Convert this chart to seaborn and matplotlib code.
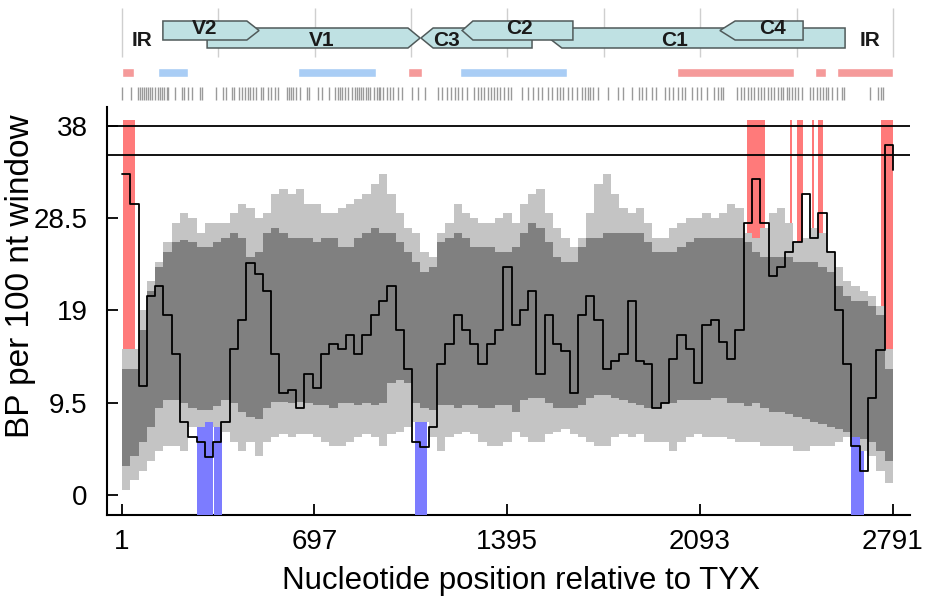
import numpy as np
import pandas as pd
import matplotlib
matplotlib.use('Agg')
import matplotlib.pyplot as plt
from matplotlib.patches import Polygon
import seaborn as sns

# sliding window start positions (every 30 nt)
pos = np.arange(1, 2792, 30)

# observed BP count per window (black line)
median_bp = [33, 30, 11.2, 20.5, 21.5, 18.5, 14.5, 7.5, 6.0, 5.5, 3.9, 5.5, 7.5, 15.0, 18.0, 23.9,
             22.8, 21.0, 14.5, 10.5, 10.8, 9.0, 12.5, 11, 14.5, 15.5, 15.0, 16.5, 14.5, 16.5, 18.5,
             20, 21.5, 17, 13, 5.5, 4.9, 7.0, 13.5, 15.5, 18.5, 17, 15.5, 13.5, 15.5, 17, 23.5,
             17.5, 19, 21, 12.5, 18.5, 15.5, 14.8, 10.5, 18.5, 20.5, 18, 13, 13.8, 14.5, 20, 13.8,
             13.5, 9, 9.5, 14, 16.5, 15, 11.5, 17.5, 18, 15.8, 14, 17, 28, 32.5, 28, 22.5, 23.5,
             25, 26, 31, 26.5, 29, 25, 19, 13.5, 5.0, 2.5, 10, 14.9, 36, 33.5]

# outer (light grey) band
light_hi = [15, 15, 19, 22, 24, 26, 28, 29, 28.5, 27, 28, 28, 28, 29, 30, 29.5, 28.5, 29, 31, 31.5,
            31, 31.5, 30, 30, 29, 29, 29.5, 30, 30.5, 31, 32, 33, 31, 29, 27.5, 27, 25, 24.5, 27,
            28, 30, 29, 28.5, 28, 28, 28.5, 29, 28, 30, 31, 31.5, 29, 27.5, 26.5, 25.5, 26.5, 29,
            32, 33, 31, 29.5, 29, 29.5, 28, 26.5, 26.5, 27.5, 28, 28.5, 28.5, 29, 28.5, 29, 30,
            29.5, 27, 26.5, 27.5, 29, 29.5, 28, 26, 26.5, 27.5, 27, 25, 23.5, 22, 21.5, 21, 20.5,
            19.5, 15, 13.5]
light_lo = [0.5, 1.5, 2.5, 3.5, 4.5, 5, 5, 4.5, 7, 7, 7.5, 7, 6.5, 5.5, 4.5, 5.5, 4, 5.5, 6, 6.3,
            6, 6.3, 6.3, 6, 5.5, 5, 5, 5.5, 6, 6.3, 6, 5, 6.3, 6.5, 7, 7.5, 7.5, 6, 4.5, 6, 6.3,
            6.5, 6.3, 5.5, 5, 5, 5.5, 6.5, 6, 5.5, 5.5, 6.3, 6.5, 6.8, 6.3, 6, 5.5, 5, 5, 6, 6.3,
            6, 6.3, 5.5, 5.5, 5.5, 4.5, 5.5, 6, 6.3, 6, 6, 6, 5.8, 5.5, 5.5, 5.5, 5, 5, 5, 5, 4.5,
            4.5, 5, 5, 5, 5.5, 6, 6, 4.5, 4, 2.5, 1.2, 1]

# inner (dark grey) band
dark_hi = [13, 13, 17, 21, 23.5, 25, 26, 26.3, 26, 25.5, 25.5, 26, 26.5, 27, 26.5, 24.5, 25, 27,
           27.5, 27, 26.5, 26.5, 26.5, 26, 26.5, 26.5, 25.5, 25.5, 26.5, 27, 27.5, 27, 27, 26, 25,
           24, 23, 23.5, 26, 26.5, 27, 26.5, 25.5, 25.5, 25.5, 25, 25, 25.5, 27, 28, 27.5, 26,
           24.5, 24, 24, 25.5, 26.5, 26.5, 27, 27, 27, 27, 27, 26, 25, 25, 25, 25.5, 26, 26.5,
           26.5, 26.5, 26.5, 26.5, 26.5, 26, 25, 24.5, 24.5, 24.5, 24.5, 24, 24, 24, 23.5, 23,
           21.5, 20.5, 20, 20, 19.5, 18.5, 13, 12.5]
dark_lo = [3, 4, 5.5, 7, 9, 9.8, 9.8, 9.5, 9, 8.8, 8.8, 9.2, 9.8, 9.5, 8.5, 8, 7.8, 9, 9.6, 9.6,
           9.5, 9.6, 9.5, 9.3, 9.3, 9.0, 9.5, 9.5, 9.3, 9.5, 9.3, 9.5, 11.5, 11.8, 11.5, 9.5, 9.0,
           8.8, 9.3, 9.3, 9.0, 9.3, 9.3, 9.0, 9.0, 9.3, 9.3, 8.5, 9.8, 10, 10, 9.5, 9, 9, 9, 9.3,
           10, 10.3, 10.3, 10, 9.8, 9.5, 9.3, 9, 9, 9.5, 9.5, 9.8, 9.8, 9.8, 9.8, 10, 10, 9.5,
           9.5, 9.2, 9.5, 9, 8.5, 8.5, 8.3, 8, 7.8, 7.5, 7.3, 7, 6.8, 6.5, 6, 5.8, 5.5, 4.5, 3.5, 3]

# windows above / below the outer band
red_spans = [(5, 49), (2262, 2328), (2419, 2427), (2443, 2467), (2497, 2507), (2521, 2539), (2748, 2791)]
blue_spans = [(272, 330), (335, 363), (1061, 1104), (2639, 2688)]

# genome map: (name, flat end, arrow base, arrow tip, row)
genes = [('V1', 309, 1036, 1080, 'low'),
         ('V2', 149, 453, 497, 'up'),
         ('C3', 1485, 1127, 1083, 'low'),
         ('C1', 2618, 1593, 1546, 'low'),
         ('C2', 1633, 1271, 1232, 'up'),
         ('C4', 2466, 2220, 2165, 'up')]
map_labels = ['IR', 'V2', 'V1', 'C3', 'C2', 'C1', 'C4', 'IR']
map_label_x = [73, 301, 725, 1177, 1441, 2002, 2357, 2708]
map_label_row = ['mid', 'up', 'low', 'low', 'up', 'low', 'up', 'mid']

strip_red = [(1, 45), (1036, 1087), (2010, 2433), (2509, 2549), (2589, 2791)]
strip_blue = [(131, 240), (639, 922), (1225, 1612)]

site_pos = [2, 34, 58, 67, 75, 82, 89, 96, 104, 111, 120, 130, 137, 145, 154, 163, 169, 193, 217,
            227, 239, 253, 283, 292, 340, 368, 376, 398, 408, 425, 437, 446, 456, 466, 475, 485,
            504, 513, 528, 540, 555, 567, 597, 605, 613, 620, 630, 645, 669, 678, 709, 724, 750,
            772, 782, 789, 796, 808, 820, 832, 844, 852, 859, 866, 875, 883, 893, 900, 912, 923,
            931, 935, 947, 959, 971, 983, 1001, 1013, 1049, 1074, 1098, 1146, 1158, 1176, 1192,
            1206, 1218, 1233, 1248, 1276, 1288, 1300, 1312, 1324, 1336, 1349, 1358, 1370, 1385,
            1397, 1409, 1448, 1472, 1490, 1508, 1520, 1542, 1556, 1574, 1586, 1598, 1614, 1628,
            1647, 1667, 1677, 1686, 1696, 1707, 1725, 1761, 1797, 1815, 1846, 1872, 1884, 1896,
            1918, 1932, 1966, 1981, 1996, 2012, 2027, 2039, 2065, 2081, 2097, 2117, 2145, 2157,
            2169, 2177, 2226, 2241, 2253, 2265, 2277, 2290, 2302, 2314, 2326, 2338, 2350, 2362,
            2374, 2386, 2395, 2407, 2415, 2425, 2437, 2449, 2461, 2491, 2503, 2515, 2527, 2539,
            2548, 2557, 2570, 2588, 2606, 2615, 2708, 2736, 2748, 2757]

x_ticks = [1, 697, 1395, 2093, 2791]
y_ticks = [0, 9.5, 19, 28.5, 38]
y_tick_labels = ['0', '9.5', '19', '28.5', '38']
cutoffs = [38, 35]

df = pd.DataFrame({'pos': pos, 'bp': median_bp, 'light_hi': light_hi, 'light_lo': light_lo,
                   'dark_hi': dark_hi, 'dark_lo': dark_lo})

sns.set_style('ticks')
plt.rcParams['font.family'] = ['Liberation Sans', 'DejaVu Sans']

W, H = 929, 601
fig = plt.figure(figsize=(W / 100, H / 100), dpi=100)
xlim = (-53.3, 2853)
ylim = (-2.06, 39.95)

ax = fig.add_axes([107 / W, 1 - 515 / H, 803 / W, 408 / H])
ax_map = fig.add_axes([107 / W, 1 - 105 / H, 803 / W, 105 / H])


def step_at(xq, vals):
    idx = np.clip(np.searchsorted(pos, xq, side='right') - 1, 0, len(pos) - 1)
    return np.asarray(vals, dtype=float)[idx]


# bands
ax.fill_between(df['pos'], df['light_lo'], df['light_hi'], step='post', color='#c4c4c4', lw=0, zorder=1)
ax.fill_between(df['pos'], df['dark_lo'], df['dark_hi'], step='post', color='#808080', lw=0, zorder=2)

for a, b in red_spans:
    xq = np.concatenate([[a], pos[(pos > a) & (pos < b)], [b]])
    ax.fill_between(xq, step_at(xq, light_hi), 38.6, step='post', color='#ff7a7a', lw=0, zorder=3)
for a, b in blue_spans:
    xq = np.concatenate([[a], pos[(pos > a) & (pos < b)], [b]])
    ax.fill_between(xq, ylim[0], step_at(xq, light_lo), step='post', color='#7c7cff', lw=0, zorder=3)

for c in cutoffs:
    ax.axhline(c, color='black', lw=1.3, zorder=4)

sns.lineplot(data=df, x='pos', y='bp', drawstyle='steps-post', color='black', lw=1.3,
             estimator=None, ax=ax, zorder=5)

ax.set_xlim(*xlim)
ax.set_ylim(*ylim)
ax.set_xticks(x_ticks)
ax.set_xticklabels([str(t) for t in x_ticks])
ax.set_yticks(y_ticks)
ax.set_yticklabels(y_tick_labels)
ax.tick_params(direction='in', length=8, width=1.3, labelsize=20, colors='black')
ax.tick_params(axis='y', pad=14)
ax.tick_params(axis='x', pad=10)
sns.despine(ax=ax)
for s in ['left', 'bottom']:
    ax.spines[s].set_linewidth(1.5)
    ax.spines[s].set_color('black')
ax.set_xlabel('Nucleotide position relative to TYX', fontsize=22.5, color='black')
ax.set_ylabel('BP per 100 nt window', fontsize=24, color='black')
ax.xaxis.set_label_coords(0.515, -0.125)
ax.yaxis.set_label_coords(-0.089, 0.585)

# genome map
ax_map.set_xlim(*xlim)
ax_map.set_ylim(105, 0)
ax_map.axis('off')
ax_map.vlines(np.linspace(1, 2791, 9), 8, 57, color='#cfcfcf', lw=1, zorder=0)

rows = {'up': (21, 40), 'low': (28, 48)}
for name, flat, base, tip, row in genes:
    top, bot = rows[row]
    mid = (top + bot) / 2
    poly = Polygon([(flat, top), (base, top), (tip, mid), (base, bot), (flat, bot)],
                   closed=True, facecolor='#bfe1e3', edgecolor='#505a5a', lw=1.1, zorder=2)
    ax_map.add_patch(poly)

label_y = {'up': 29, 'low': 40, 'mid': 41}
for txt, lx, lr in zip(map_labels, map_label_x, map_label_row):
    ax_map.text(lx, label_y[lr], txt, ha='center', va='center', fontsize=15,
                fontweight='bold', color='#1a1a1a', zorder=3)

ax_map.broken_barh([(a, b - a) for a, b in strip_red], (68, 9), facecolors='#f59a9a', zorder=1)
ax_map.broken_barh([(a, b - a) for a, b in strip_blue], (68, 9), facecolors='#a9cdf5', zorder=1)
ax_map.vlines(site_pos, 87, 100, color='#9a9a9a', lw=1)

fig.savefig('out.png', dpi=100)
